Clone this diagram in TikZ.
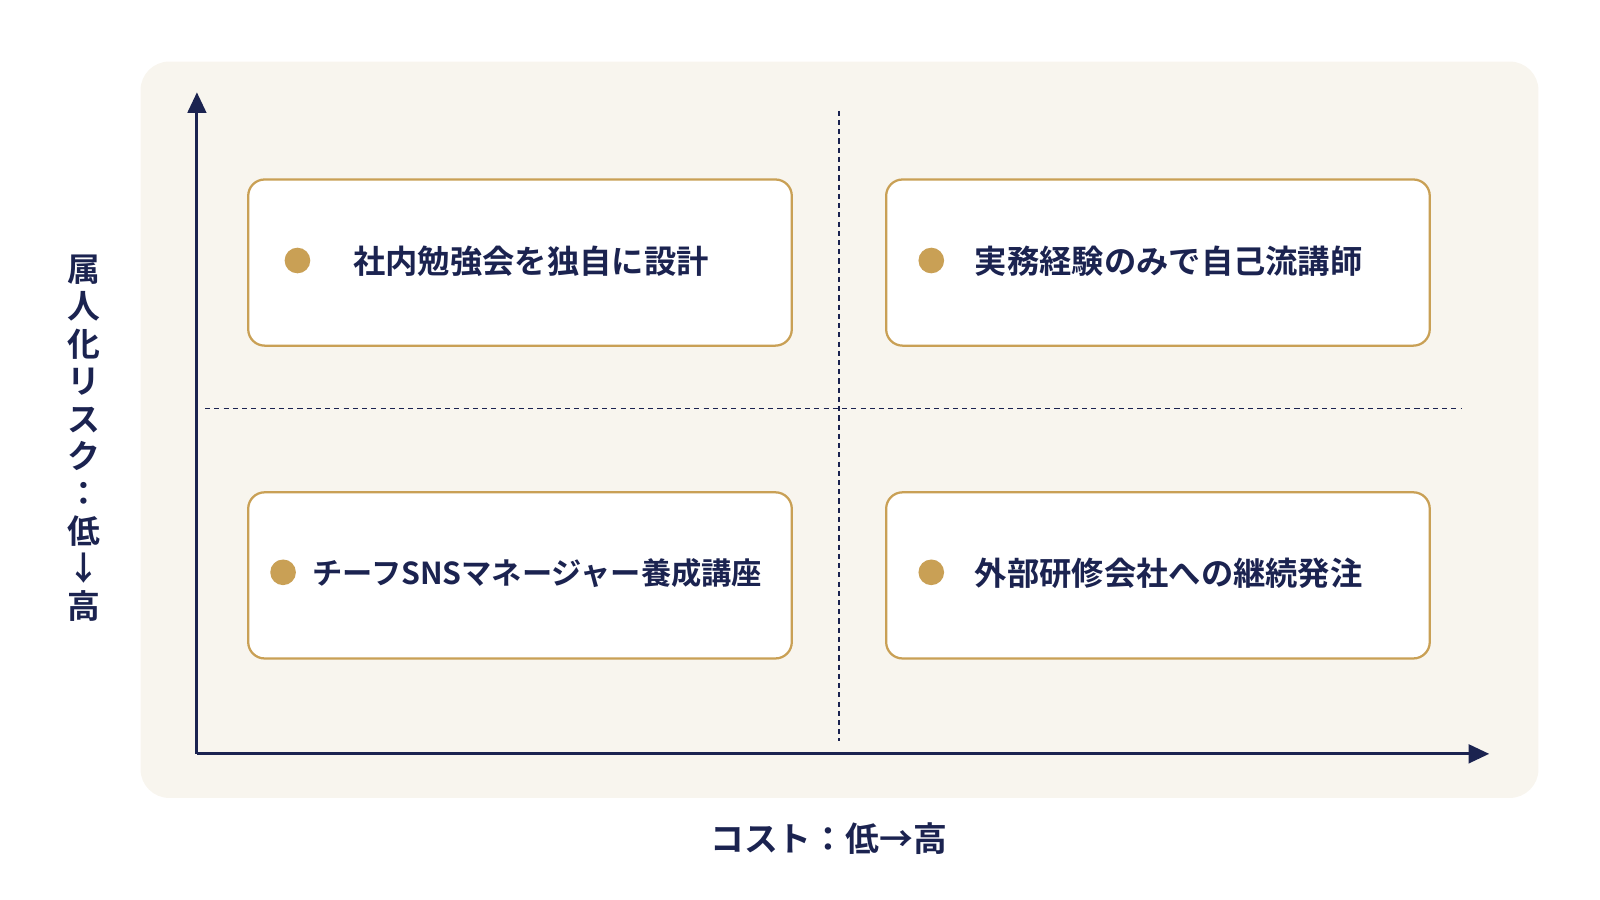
\documentclass[tikz,border=0pt]{standalone}
\usepackage{fontspec}
\newfontfamily\cjk{Noto Sans CJK JP}[BoldFont={* Bold}]
\usetikzlibrary{arrows.meta}
\definecolor{navy}{HTML}{1B2350}
\definecolor{gold}{HTML}{C9A055}
\definecolor{panel}{HTML}{F8F5EE}
\begin{document}
\begin{tikzpicture}[x=1pt,y=-1pt,
  box/.style={draw=gold,line width=2.2pt,fill=white,rounded corners=16pt},
  dot/.style={circle,fill=gold,minimum size=25pt,inner sep=0pt},
  lbl/.style={anchor=west,text=navy,font=\cjk\bfseries\fontsize{31.5}{34}\selectfont},
  axis/.style={navy,line width=3pt,-{Triangle[length=20pt,width=18pt]}},
  grid/.style={navy,line width=1.1pt,dash pattern=on 5pt off 4pt}]
\useasboundingbox (0,0) rectangle (1560,877.5);
\fill[panel,rounded corners=28pt] (137,60) rectangle (1500,778);
\coordinate (o) at (192,735);
\coordinate (ytop) at (192,90);
\coordinate (xend) at (1452,735);
\coordinate (v1) at (818,108); \coordinate (v2) at (818,722);
\coordinate (h1) at (200,398); \coordinate (h2) at (1425,398);
\draw[grid] (v1) -- (v2);
\draw[grid] (h1) -- (h2);
\draw[axis] (o) -- (ytop);
\draw[axis] (o) -- (xend);
\draw[box] (242,175) rectangle (772,337);
\draw[box] (864,175) rectangle (1394,337);
\draw[box] (242,480) rectangle (772,642);
\draw[box] (864,480) rectangle (1394,642);
\node[dot] (d1) at (290,254) {};
\node[dot] (d2) at (908,254) {};
\node[dot] (d3) at (276,558) {};
\node[dot] (d4) at (908,558) {};
\node[lbl] (t1) at (341,255) {社内勉強会を独自に設計};
\node[lbl] (t2) at (947,255) {実務経験のみで自己流講師};
\node[lbl,font=\cjk\bfseries\fontsize{29.5}{34}\selectfont] (t3) at (301,559) {チーフSNSマネージャー養成講座};
\node[lbl] (t4) at (947,559) {外部研修会社への継続発注};
\node[text=navy,font=\cjk\bfseries\fontsize{32}{36.5}\selectfont,align=center] (yl) at (82,427)
  {属\\人\\化\\リ\\ス\\ク\\：\\低\\↓\\高};
\node[text=navy,font=\cjk\bfseries\fontsize{33}{36}\selectfont] (xl) at (808,818) {コスト：低→高};
\end{tikzpicture}
\end{document}
